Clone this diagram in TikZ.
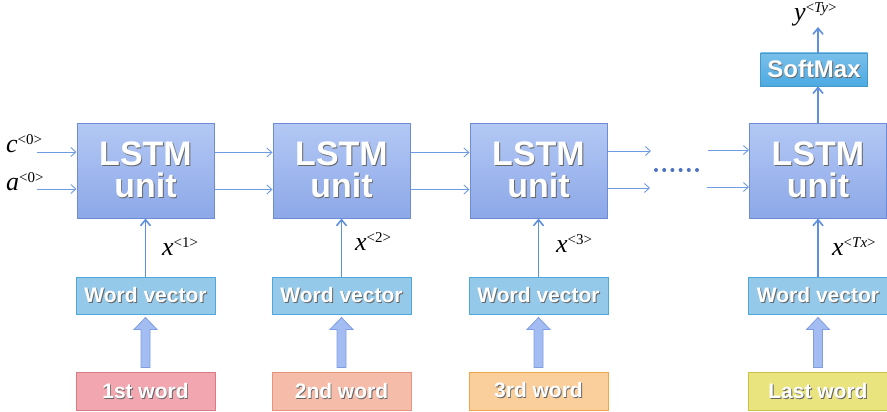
\documentclass[tikz,border=0pt]{standalone}
\usepackage{fontspec}
\setmainfont{Liberation Sans}
\newfontfamily\lblfont{Liberation Serif}
\usetikzlibrary{arrows.meta,calc,shadings}
\definecolor{lstmtop}{HTML}{B3C8F4}
\definecolor{lstmbot}{HTML}{8CA8E8}
\definecolor{lstmdraw}{HTML}{6E8CD6}
\definecolor{wvfill}{HTML}{94C9EA}
\definecolor{wvdraw}{HTML}{4FA8DC}
\definecolor{smfill}{HTML}{4DAAE2}
\definecolor{linec}{HTML}{6F9BE3}
\definecolor{upc}{HTML}{5F90E0}
\definecolor{fatfill}{HTML}{A3BDF2}
\definecolor{fatdraw}{HTML}{7F9FE2}
\definecolor{dotc}{HTML}{4E72C2}
\definecolor{wa}{HTML}{F2A7B0}\definecolor{wad}{HTML}{D97A88}
\definecolor{wb}{HTML}{F5BCA9}\definecolor{wbd}{HTML}{E6927C}
\definecolor{wc}{HTML}{FBCF9B}\definecolor{wcd}{HTML}{EFA548}
\definecolor{wd}{HTML}{EAE47E}\definecolor{wdd}{HTML}{C9C14A}
\newcommand\shd[1]{\leavevmode\rlap{\kern0.9pt\raisebox{-1pt}{\textcolor{black!60}{#1}}}\textcolor{white}{#1}}
\newcommand\lbl[2]{{\lblfont\fontsize{26}{26}\selectfont\textit{#1}\raisebox{8pt}{\fontsize{15}{15}\selectfont <#2>}}}
\tikzset{
  lstm/.style={draw=lstmdraw, line width=1pt, top color=lstmtop, bottom color=lstmbot,
    minimum width=137pt, minimum height=95pt, inner sep=0pt, align=center,
    font=\bfseries\fontsize{34}{32}\selectfont},
  wvec/.style={draw=wvdraw, line width=1pt, fill=wvfill, minimum width=139pt, minimum height=37pt,
    inner sep=0pt, font=\bfseries\fontsize{21}{21}\selectfont},
  wordbox/.style={line width=1pt, minimum width=139pt, minimum height=38pt,
    inner sep=0pt, font=\bfseries\fontsize{21}{21}\selectfont},
  smbox/.style={top color=smfill!75!white, bottom color=smfill, draw=smfill!90!black, line width=0.5pt,
    minimum width=107pt, minimum height=33pt, inner sep=0pt, font=\bfseries\fontsize{24}{24}\selectfont},
  flow/.style={draw=linec, line width=0.9pt, -{Straight Barb[length=5pt,width=9pt]}},
  upar/.style={draw=upc, line width=1.6pt, -{Straight Barb[length=6pt,width=10pt]}},
  fatarrow/.style={draw=fatdraw, fill=fatfill, line width=0.8pt, line join=miter},
  lab/.style={anchor=base west, inner sep=0pt},
  dotn/.style={circle, fill=dotc, inner sep=0pt, minimum size=4pt}
}
\newcommand\fatarr[2]{\draw[fatarrow] ($(#1.north)+(-4.5,-4)$) -- ($(#2.south)+(-4.5,15)$) -- ($(#2.south)+(-11.5,15)$) -- ($(#2.south)+(0,3)$) -- ($(#2.south)+(11.5,15)$) -- ($(#2.south)+(4.5,15)$) -- ($(#1.north)+(4.5,-4)$) -- cycle;}
\begin{document}
\begin{tikzpicture}[x=1pt,y=-1pt]
\useasboundingbox (0,0) rectangle (887,412);
% LSTM units
\node[lstm] (b1) at (145.5,170.5) {\shd{LSTM}\\\shd{unit}};
\node[lstm] (b2) at (341.5,170.5) {\shd{LSTM}\\\shd{unit}};
\node[lstm] (b3) at (538.5,170.5) {\shd{LSTM}\\\shd{unit}};
\node[lstm] (b4) at (818,170.5) {\shd{LSTM}\\\shd{unit}};
% word vectors
\node[wvec] (v1) at (145.5,295.5) {\shd{Word vector}};
\node[wvec] (v2) at (341.5,295.5) {\shd{Word vector}};
\node[wvec] (v3) at (538.5,295.5) {\shd{Word vector}};
\node[wvec] (v4) at (818,295.5) {\shd{Word vector}};
% words
\node[wordbox, draw=wad, fill=wa] (w1) at (145.5,391) {\shd{1st word}};
\node[wordbox, draw=wbd, fill=wb] (w2) at (341.5,391) {\shd{2nd word}};
\node[wordbox, draw=wcd, fill=wc] (w3) at (538.5,391) {\shd{3rd word}};
\node[wordbox, draw=wdd, fill=wd] (w4) at (818,391) {\shd{Last word}};
% softmax
\node[smbox] (sm) at (814,69.5) {\shd{SoftMax}};
% fat arrows
\fatarr{w1}{v1}
\fatarr{w2}{v2}
\fatarr{w3}{v3}
\fatarr{w4}{v4}
% up arrows
\draw[upar] (v1.north) -- (b1.south);
\draw[upar] (v2.north) -- (b2.south);
\draw[upar] (v3.north) -- (b3.south);
\draw[upar] (v4.north) -- (b4.south);
\draw[upar] (b4.north) -- (b4.north |- sm.south);
\coordinate (yout) at (818,27);
\draw[upar] (b4.north |- sm.north) -- (yout);
% inputs
\coordinate (cin) at (37,152);
\coordinate (ain) at (37,189);
\draw[flow] (cin) -- (cin -| b1.west);
\draw[flow] (ain) -- (ain -| b1.west);
% horizontal flows
\draw[flow] ([yshift=-19pt]b1.east) -- ([yshift=-19pt]b2.west);
\draw[flow] ([yshift=18pt]b1.east) -- ([yshift=18pt]b2.west);
\draw[flow] ([yshift=-19pt]b2.east) -- ([yshift=-19pt]b3.west);
\draw[flow] ([yshift=18pt]b2.east) -- ([yshift=18pt]b3.west);
\coordinate (d1) at (651,151);
\coordinate (d2) at (650,188);
\coordinate (e1) at (708,150);
\coordinate (e2) at (707,187);
\draw[flow] (b3.east |- d1) -- (d1);
\draw[flow] (b3.east |- d2) -- (d2);
\draw[flow] (e1) -- (e1 -| b4.west);
\draw[flow] (e2) -- (e2 -| b4.west);
% dots
\foreach \i in {0,...,5} \node[dotn] (dot\i) at (656+8.2*\i,170) {};
% labels
\node[lab] (lc) at (6,152) {\lbl{c}{0}};
\node[lab] (la) at (6,190) {\lbl{a}{0}};
\node[lab] (lx1) at (162,255) {\lbl{x}{1}};
\node[lab] (lx2) at (355,250) {\lbl{x}{2}};
\node[lab] (lx3) at (556,252) {\lbl{x}{3}};
\node[lab] (lx4) at (832,255) {\lbl{x}{\textit{Tx}}};
\node[lab] (ly) at (794,21) {\lbl{y}{\textit{Ty}}};
\end{tikzpicture}
\end{document}
